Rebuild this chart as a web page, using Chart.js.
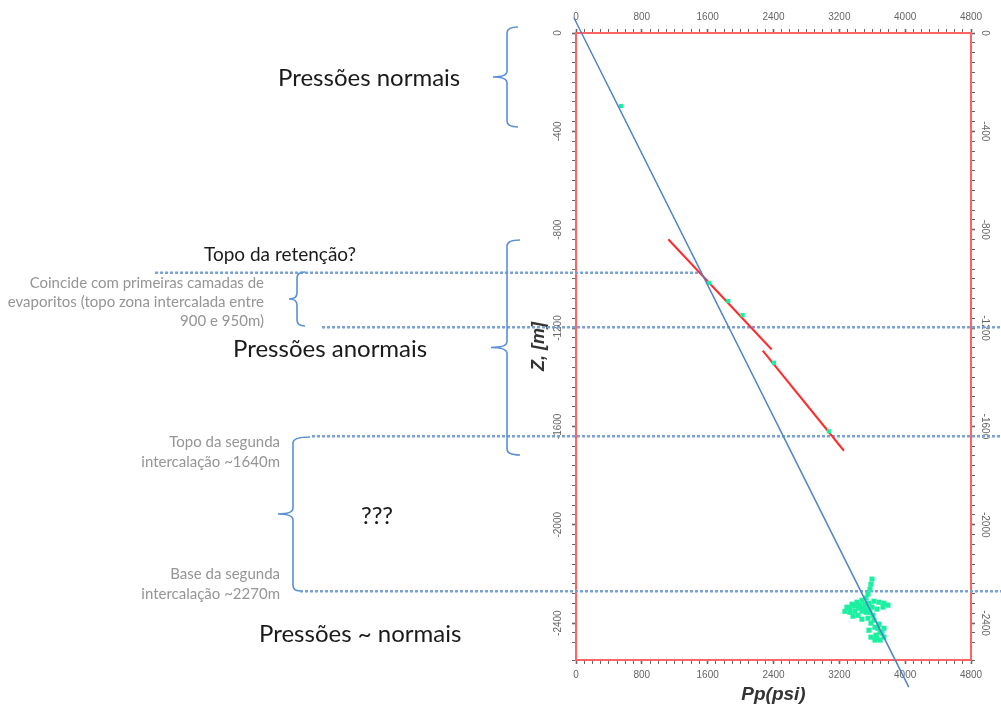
<!DOCTYPE html>
<html>
<head>
<meta charset="utf-8">
<script src="https://cdn.jsdelivr.net/npm/chart.js@4.4.1/dist/chart.umd.min.js"></script>
<style>
  html, body { margin: 0; padding: 0; background: #fff; }
  #wrap { position: relative; width: 1001px; height: 709px; }
</style>
</head>
<body>
<div id="wrap"><canvas id="grafico"></canvas></div>
<script>
// escalas (psi no eixo x, cota em m no eixo y)
const xLimites = [0, 4800];
const yLimites = [-2550, 0];
const xRotulos = [0, 800, 1600, 2400, 3200, 4000, 4800];
const yRotulos = [0, -400, -800, -1200, -1600, -2000, -2400];

// pressões medidas isoladas [psi, m]
const pontosPp = [[547, -297], [1620, -1016], [1851, -1090], [2025, -1147], [2406, -1341], [3074, -1620]];

// nuvem de pontos na base do poço [psi, m]
const nuvemPp = [
  [3597, -2221], [3584, -2242], [3572, -2262], [3548, -2282], [3524, -2298], [3475, -2307],
  [3414, -2315], [3354, -2323], [3293, -2335], [3268, -2352], [3329, -2356], [3390, -2352],
  [3427, -2368], [3366, -2372], [3487, -2339], [3560, -2319], [3621, -2311], [3682, -2315],
  [3742, -2319], [3791, -2327], [3730, -2335], [3524, -2356], [3548, -2380], [3584, -2400],
  [3633, -2417], [3682, -2404], [3742, -2421], [3694, -2437], [3645, -2449], [3584, -2457],
  [3633, -2469], [3694, -2469], [3742, -2457], [3560, -2429], [3609, -2368], [3475, -2384],
  [3438, -2339], [3329, -2339], [3390, -2331], [3451, -2327], [3511, -2323], [3475, -2351],
  [3536, -2339], [3597, -2335], [3657, -2343], [3572, -2356], [3621, -2388], [3669, -2421],
  [3718, -2441], [3657, -2461]
];

// gradiente normal e tendências anormais [psi, m]
const gradienteNormal = [[-24, 61], [4044, -2660]];
const tendencia1 = [[1121, -839], [2378, -1287]];
const tendencia2 = [[2269, -1292], [3256, -1699]];

// níveis de referência [psi, m]
const nivelRetencao = [[-5115, -975], [1530, -975]];
const nivelEvaporitos = [[-3086, -1197], [5170, -1197]];
const nivelTopo2 = [[-3208, -1640], [5170, -1640]];
const nivelBase2 = [[-3354, -2270], [5170, -2270]];

const pts = arr => arr.map(p => ({ x: p[0], y: p[1] }));

function chave(ctx, x, top, bottom, tip, hookTop, hookBot) {
  const mid = (top + bottom) / 2, r = 6;
  ctx.beginPath();
  ctx.moveTo(hookTop, top);
  ctx.quadraticCurveTo(x, top, x, top + r);
  ctx.lineTo(x, mid - r);
  ctx.quadraticCurveTo(x, mid, tip, mid);
  ctx.quadraticCurveTo(x, mid, x, mid + r);
  ctx.lineTo(x, bottom - r);
  ctx.quadraticCurveTo(x, bottom, hookBot, bottom);
  ctx.stroke();
}

const notas = {
  id: 'notas',
  afterDraw(chart) {
    const ctx = chart.ctx;
    ctx.save();
    ctx.strokeStyle = '#5b8fd6';
    ctx.lineWidth = 1.6;
    chave(ctx, 507, 27, 127, 493, 518, 518);
    chave(ctx, 507, 240, 455, 491, 520, 520);
    chave(ctx, 297, 272, 326, 289, 305, 305);
    chave(ctx, 293, 437, 591, 278, 310, 300);

    ctx.textBaseline = 'middle';
    ctx.fillStyle = '#1a1a1a';
    ctx.textAlign = 'left';
    ctx.font = '24px Lato';
    ctx.fillText('Pressões normais', 278, 78);
    ctx.fillText('Pressões anormais', 233, 349);
    ctx.fillText('Pressões ~ normais', 259, 634);
    ctx.textAlign = 'center';
    ctx.fillText('???', 377, 516);
    ctx.textAlign = 'left';
    ctx.font = '19px Lato';
    ctx.fillText('Topo da retenção?', 204, 255);

    ctx.fillStyle = '#959595';
    ctx.font = '15px Lato';
    ctx.textAlign = 'right';
    ctx.fillText('Coincide com primeiras camadas de', 264, 283);
    ctx.fillText('evaporitos (topo zona intercalada entre', 264, 302);
    ctx.fillText('900 e 950m)', 264, 321);
    ctx.fillText('Topo da segunda', 280, 442);
    ctx.fillText('intercalação ~1640m', 280, 462);
    ctx.fillText('Base da segunda', 280, 574);
    ctx.fillText('intercalação ~2270m', 280, 594);
    ctx.restore();
  }
};

const tickFont = { family: 'Liberation Sans', size: 10 };
const borda = { color: '#ff6464', width: 2 };
const grade = (passoMaior) => ({
  drawOnChartArea: false, drawTicks: true, tickLength: 4, tickColor: '#666',
  tickWidth: c => (c.tick && c.tick.value % passoMaior === 0 ? 1.6 : 1)
});
const rotX = v => (xRotulos.includes(v) ? String(v) : '');
const rotY = v => (yRotulos.includes(v) ? String(v) : '');

const nivel = (d) => ({
  type: 'line', data: pts(d), borderColor: '#7aa0da', borderWidth: 2.5, borderDash: [3, 2],
  pointRadius: 0, clip: false, showLine: true
});

new Chart(document.getElementById('grafico'), {
  type: 'scatter',
  data: {
    datasets: [
      { type: 'line', data: pts(gradienteNormal), borderColor: '#4f80c8', borderWidth: 1.5, pointRadius: 0, clip: false },
      { data: pts(pontosPp), backgroundColor: '#19f0a0', borderWidth: 0, pointStyle: 'rect', pointRadius: 3, clip: false },
      { data: pts(nuvemPp), backgroundColor: '#19f0a0', borderWidth: 0, pointStyle: 'rect', pointRadius: 3.6, clip: false },
      { type: 'line', data: pts(tendencia1), borderColor: '#ff2a2a', borderWidth: 2, pointRadius: 0, clip: false },
      { type: 'line', data: pts(tendencia2), borderColor: '#ff2a2a', borderWidth: 2, pointRadius: 0, clip: false },
      nivel(nivelRetencao),
      nivel(nivelEvaporitos),
      nivel(nivelTopo2),
      nivel(nivelBase2)
    ]
  },
  options: {
    responsive: true,
    maintainAspectRatio: false,
    animation: false,
    devicePixelRatio: 1,
    layout: { padding: { left: 528, right: 0, top: 0, bottom: 0 } },
    plugins: { legend: { display: false }, tooltip: { enabled: false } },
    scales: {
      x: {
        type: 'linear', position: 'bottom', min: xLimites[0], max: xLimites[1],
        ticks: { stepSize: 100, autoSkip: false, maxRotation: 0, callback: rotX, font: tickFont, color: '#666', padding: 5 },
        grid: grade(800), border: borda,
        title: { display: true, text: 'Pp(psi)', color: '#333', font: { family: 'Liberation Sans', size: 19, weight: 'bold', style: 'italic' }, padding: { top: 0, bottom: 3 } },
        afterFit: s => { s.height = 49; }
      },
      x2: {
        type: 'linear', axis: 'x', position: 'top', min: xLimites[0], max: xLimites[1],
        ticks: { stepSize: 100, autoSkip: false, maxRotation: 0, callback: rotX, font: tickFont, color: '#666', padding: 6 },
        grid: grade(800), border: borda,
        afterFit: s => { s.height = 33; }
      },
      y: {
        type: 'linear', position: 'left', min: yLimites[0], max: yLimites[1],
        ticks: { stepSize: 40, autoSkip: false, minRotation: 90, maxRotation: 90, crossAlign: 'center', callback: rotY, font: tickFont, color: '#666', padding: 1 },
        grid: grade(400), border: borda,
        title: { display: true, text: 'Z, [m]', color: '#333', font: { family: 'Liberation Sans', size: 18, weight: 'bold', style: 'italic' }, padding: { top: 0, bottom: 0 } },
        afterFit: s => { s.width = 48; }
      },
      y2: {
        type: 'linear', axis: 'y', position: 'right', min: yLimites[0], max: yLimites[1],
        ticks: { stepSize: 40, autoSkip: false, minRotation: -90, maxRotation: -90, crossAlign: 'center', callback: rotY, font: tickFont, color: '#666', padding: -3 },
        grid: grade(400), border: borda,
        afterFit: s => { s.width = 30; }
      }
    }
  },
  plugins: [notas]
});
</script>
</body>
</html>
